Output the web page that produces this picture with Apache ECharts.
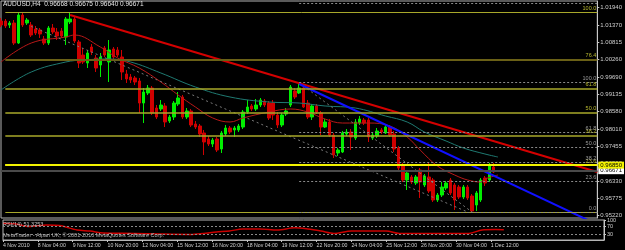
<!DOCTYPE html>
<html><head><meta charset="utf-8">
<script src="https://cdn.jsdelivr.net/npm/echarts@6/dist/echarts.min.js"></script>
<style>html,body{margin:0;padding:0;background:#000;}#c{width:625px;height:250px;}</style>
</head><body><div id="c"></div>
<script>
const tickLabels = ['4 Nov 2010','8 Nov 04:00','9 Nov 12:00','10 Nov 20:00','12 Nov 04:00','15 Nov 12:00','16 Nov 20:00','18 Nov 04:00','19 Nov 12:00','22 Nov 20:00','24 Nov 04:00','25 Nov 12:00','26 Nov 20:00','30 Nov 04:00','1 Dec 12:00'];
const open = [1.01498,1.01498,1.01369,1.01433,1.00788,1.01691,1.01433,1.01369,1.01240,1.01208,
1.00917,1.00788,1.01272,1.01143,1.01175,1.00982,1.01466,1.01562,1.00821,1.00401,
1.00143,1.00659,1.00305,1.00079,1.00627,1.00176,1.00595,1.00563,1.00337,0.99789,
0.99692,0.99660,0.99563,0.98853,0.99176,0.99337,0.98692,0.98660,0.98757,0.98273,
0.98402,0.98821,0.99047,0.98402,0.98595,0.98176,0.98112,0.97886,0.97692,0.97531,
0.97692,0.97370,0.97854,0.98047,0.97983,0.97983,0.98079,0.98563,0.98757,0.98660,
0.98789,0.98918,0.98853,0.98853,0.98466,0.98144,0.98499,0.98789,0.99240,0.99176,
0.99337,0.98853,0.98402,0.98757,0.98531,0.98079,0.98241,0.97821,0.97241,0.97273,
0.97854,0.97918,0.97725,0.98208,0.98305,0.98305,0.97725,0.97789,0.97983,0.97886,
0.98079,0.97854,0.97402,0.96822,0.96370,0.96467,0.96273,0.96693,0.96209,0.96467,
0.96370,0.95725,0.95886,0.96112,0.96370,0.96209,0.96144,0.95822,0.96144,0.95854,
0.95564,0.95725,0.96435,0.96370,0.96789,0.96668];
const close = [1.01369,1.01337,1.01433,1.00788,1.01691,1.01369,1.01530,1.01046,1.01111,1.01079,
1.00788,1.01272,1.01143,1.01014,1.01014,1.01562,1.01562,1.00853,1.00143,1.00176,
1.00466,1.00498,0.99982,1.00337,1.00401,1.00563,1.00337,1.00401,0.99853,0.99628,
0.99595,0.99531,0.98853,0.99208,0.99337,0.98531,0.98402,0.98789,0.98241,0.98402,
0.98853,0.99015,0.98402,0.98595,0.98144,0.98079,0.97854,0.97596,0.97531,0.97660,
0.97338,0.97886,0.98047,0.97918,0.98047,0.98112,0.98563,0.98724,0.98660,0.98789,
0.98950,0.98789,0.98370,0.98466,0.98144,0.98466,0.98595,0.99369,0.99047,0.99337,
0.98724,0.98402,0.98757,0.98563,0.98079,0.98241,0.97821,0.97176,0.97338,0.97886,
0.97918,0.97757,0.98241,0.98337,0.98208,0.97757,0.97821,0.97950,0.97918,0.98079,
0.97821,0.97370,0.96757,0.96370,0.96596,0.96306,0.96467,0.96306,0.96499,0.96015,
0.95725,0.95886,0.96144,0.96273,0.95951,0.95725,0.95822,0.96144,0.95790,0.95370,
0.95951,0.96370,0.96273,0.96854,0.96628,0.96671];
const low = [1.01304,1.01272,1.01272,1.00724,1.00756,1.01304,1.01369,1.00982,1.01046,1.00950,
1.00724,1.00724,1.01079,1.00885,1.00950,1.00724,1.01401,1.00788,0.99982,1.00111,
0.99982,1.00401,0.99853,0.99692,1.00337,0.99531,1.00240,1.00337,0.99595,0.99498,
0.99498,0.99434,0.98531,0.98208,0.99111,0.98466,0.98337,0.98595,0.98079,0.98208,
0.98305,0.98757,0.98337,0.98337,0.98079,0.98015,0.97757,0.97176,0.97467,0.97434,
0.97273,0.97241,0.97789,0.97854,0.97757,0.97918,0.98015,0.98499,0.98595,0.98595,
0.98724,0.98724,0.98305,0.98305,0.98047,0.98079,0.98434,0.98724,0.98982,0.99144,
0.98692,0.98337,0.98305,0.98499,0.97821,0.98047,0.97757,0.97080,0.97144,0.97241,
0.97789,0.97338,0.97660,0.98144,0.98144,0.97596,0.97660,0.97725,0.97854,0.97854,
0.97757,0.97273,0.96693,0.96306,0.96048,0.96241,0.96209,0.95790,0.96144,0.95951,
0.95661,0.95661,0.95822,0.96048,0.95886,0.95403,0.95757,0.95757,0.95725,0.95338,
0.95370,0.95661,0.96177,0.96306,0.96596,0.96640];
const high = [1.01595,1.01562,1.01498,1.01530,1.01756,1.01756,1.01595,1.01466,1.01337,1.01272,
1.01014,1.01337,1.01401,1.01272,1.01272,1.01627,1.01788,1.01659,1.00885,1.00627,
1.00563,1.00756,1.00401,1.00466,1.00692,1.00885,1.00659,1.00659,1.00563,0.99918,
0.99789,0.99724,0.99660,0.99337,0.99434,0.99402,0.98789,0.98950,0.98853,0.98466,
0.98918,0.99208,0.99111,0.98692,0.98660,0.98273,0.98176,0.97983,0.97789,0.97725,
0.97757,0.97950,0.98144,0.98112,0.98112,0.98176,0.98628,0.98950,0.98821,0.98982,
0.99015,0.98982,0.98918,0.98950,0.98563,0.98531,0.98692,0.99434,0.99337,0.99508,
0.99402,0.98950,0.98821,0.98821,0.98595,0.98337,0.98337,0.97886,0.97402,0.97950,
0.98015,0.98015,0.98337,0.98434,0.98370,0.98370,0.97886,0.98047,0.98047,0.98144,
0.98144,0.97950,0.97467,0.96918,0.96693,0.96531,0.96531,0.96757,0.96563,0.96918,
0.96435,0.95951,0.96306,0.96338,0.96435,0.96273,0.96209,0.96209,0.96209,0.95918,
0.96015,0.96435,0.96499,0.96918,0.96918,0.96675];
const redMA = [[0,1.00175],[7,1.00788],[15,1.00982],[17,1.01046],[23,1.00659],[27,1.00305],[32,0.99982],[37,0.99531],[41,0.99111],[45,0.98724],[49,0.98370],[53,0.98241],[56,0.98370],[62,0.98563],[67,0.98660],[71,0.98563],[75,0.98337],[79,0.98208],[85,0.98208],[90,0.98112],[94,0.97757],[97,0.97338],[101,0.96822],[105,0.96531],[108,0.96370],[111,0.96306],[112,0.96402],[115,0.96531]];
const tealMA = [[0,0.99273],[7,0.99853],[15,1.00176],[19,1.00240],[25,1.00272],[30,1.00176],[37,0.99821],[45,0.99369],[53,0.99047],[62,0.98886],[69,0.98853],[75,0.98757],[82,0.98692],[89,0.98434],[94,0.98241],[98,0.97918],[103,0.97628],[107,0.97402],[112,0.97209],[115,0.97112]];
const rsi = [[0,84],[3,80],[6,67],[10,75],[13,72],[17,50],[20,45],[23,35],[30,33],[36,30],[43,28],[46,33],[49,40],[52,45],[55,55],[59,55],[63,50],[67,61],[70,55],[73,45],[76,33],[80,45],[84,45],[88,45],[91,33],[96,32],[100,32],[107,33],[110,50],[113,52],[115,51.3253]];
const priceTicks = [1.01940,1.01370,1.00815,1.00260,0.99690,0.99135,0.98580,0.98010,0.97455,0.96900,0.96330,0.95775,0.95220];
const rsiTicks = [100,70,30];
const fib1Names = ['100.0','76.4','61.8','50.0','38.2','23.6','0.0'];
const fib1Prices = [1.01778,1.00256,0.99314,0.98553,0.97792,0.96850,0.95328];
const fib2Names = ['161.8','100.0','61.8','50.0','38.2','23.6','0.0'];
const fib2Prices = [1.02085,0.99508,0.97915,0.97423,0.96931,0.96322,0.95338];
const redTrend = [[16,1.01691],[138,0.96628]];
const blueTrend = [[69,0.99466],[138,0.94935]];
const channelLine = [[7,1.01324],[108,0.95338]];
const fib2Trend = [[69,0.99508],[109,0.95338]];
const hLinePrice = 0.96850;
const NCAT = 139;

const FONT = 'Liberation Sans';
const categories = Array.from({length: NCAT}, (_, i) => String(i));
const candles = open.map((o, i) => [o, close[i], low[i], high[i]]);
const last = open.length - 1;
const bidPrice = close[last];
const showTick = (i) => i % 8 === 0 && (i / 8) < tickLabels.length;

const fib1Style = ['#a8a82a','#6a6016','#a8a82a','#a8a82a','#a8a82a','#f2f200','#a8a82a'];
const fib1Width = [1,2,1.5,1.5,1.5,2,1];
const fib1Lines = fib1Prices.map((p, k) => [
  {coord: [1, p], lineStyle: {color: fib1Style[k], width: fib1Width[k], type: 'solid'},
   label: {show: k !== 6, formatter: fib1Names[k], position: 'insideEndTop', color: '#b8b830', fontSize: 5.5, fontFamily: FONT, distance: 1}},
  {coord: [NCAT - 1, p]}
]);
const fib2Lines = fib2Prices.map((p, k) => [
  {coord: [69, p], lineStyle: {color: '#8a8a8a', width: 1, type: [2, 2]},
   label: {show: k !== 0, formatter: fib2Names[k], position: 'insideEndTop', color: '#9a9a9a', fontSize: 5.5, fontFamily: FONT, distance: 1}},
  {coord: [NCAT - 1, p]}
]);

const chart = echarts.init(document.getElementById('c'), null, {renderer: 'canvas'});
chart.setOption({
  backgroundColor: '#000000',
  animation: false,
  title: [
    {text: `AUDUSD,H4  ${open[last].toFixed(5)} ${high[last].toFixed(5)} ${low[last].toFixed(5)} ${close[last].toFixed(5)}`,
     left: 3, top: 1, padding: 0, textStyle: {color: '#e6e6e6', fontSize: 6.5, fontWeight: 'normal', fontFamily: FONT}},
    {text: `RSI(14) ${rsi[rsi.length - 1][1].toFixed(4)}`, left: 3, top: 221, padding: 0,
     textStyle: {color: '#c8c8c8', fontSize: 5.5, fontWeight: 'normal', fontFamily: FONT}},
    {text: 'MetaTrader - Alpari UK, © 2001-2010 MetaQuotes Software Corp.', left: 3, top: 232, padding: 0,
     textStyle: {color: '#b4b4b4', fontSize: 5.5, fontWeight: 'normal', fontFamily: FONT}}
  ],
  grid: [
    {left: 1, right: 21, top: 1, height: 217, show: true, borderColor: '#b4b4b4', borderWidth: 1, backgroundColor: 'transparent'},
    {left: 1, right: 21, top: 220, height: 20, show: true, borderColor: '#b4b4b4', borderWidth: 1, backgroundColor: 'transparent'}
  ],
  xAxis: [
    {type: 'category', gridIndex: 0, data: categories, boundaryGap: false, show: false},
    {type: 'category', gridIndex: 1, data: categories, boundaryGap: false,
     axisLine: {show: true, lineStyle: {color: '#b4b4b4'}},
     axisTick: {show: true, interval: showTick, length: 2, lineStyle: {color: '#c8c8c8'}},
     axisLabel: {interval: showTick, hideOverlap: false, align: 'left', margin: 3, color: '#d0d0d0', fontSize: 5.2, fontFamily: FONT,
       formatter: (v, i) => tickLabels[i / 8] || ''},
     splitLine: {show: false}}
  ],
  yAxis: [
    {type: 'value', gridIndex: 0, position: 'right', min: 0.95145, max: 1.02143, scale: true,
     axisLine: {show: true, lineStyle: {color: '#c8c8c8'}},
     axisTick: {show: true, length: 2, customValues: priceTicks, lineStyle: {color: '#c8c8c8'}},
     axisLabel: {customValues: priceTicks, formatter: v => v.toFixed(5), margin: 3, color: '#d0d0d0', fontSize: 6, fontFamily: FONT},
     splitLine: {show: false}},
    {type: 'value', gridIndex: 1, position: 'right', min: 0, max: 100,
     axisLine: {show: true, lineStyle: {color: '#c8c8c8'}},
     axisTick: {show: true, length: 2, customValues: rsiTicks, lineStyle: {color: '#c8c8c8'}},
     axisLabel: {customValues: rsiTicks, formatter: v => String(v), margin: 3, color: '#d0d0d0', fontSize: 5.5, fontFamily: FONT},
     splitLine: {show: false}}
  ],
  series: [
    {type: 'candlestick', xAxisIndex: 0, yAxisIndex: 0, data: candles, barWidth: 3,
     itemStyle: {color: '#00ee00', color0: '#d00000', borderColor: '#00ee00', borderColor0: '#d00000', borderWidth: 1},
     markLine: {symbol: ['none', 'none'], silent: true, animation: false,
       data: [
         [{coord: [0, bidPrice], lineStyle: {color: '#4a4a4a', width: 2, type: 'solid'},
           label: {show: true, position: 'end', formatter: bidPrice.toFixed(5), backgroundColor: '#ffffff', color: '#000', fontSize: 6, fontFamily: FONT, padding: [1, 2, 0, 2], distance: 1}},
          {coord: [NCAT - 1, bidPrice]}],
         [{coord: [1, hLinePrice], lineStyle: {color: '#f2f200', width: 2, type: 'solid'},
           label: {show: true, position: 'end', formatter: hLinePrice.toFixed(5), backgroundColor: '#f2f200', color: '#000', fontSize: 6, fontFamily: FONT, padding: [1, 2, 0, 2], distance: 1}},
          {coord: [NCAT - 1, hLinePrice]}]
       ]}},
    {type: 'line', xAxisIndex: 0, yAxisIndex: 0, data: tealMA, smooth: 0.4, symbol: 'none', lineStyle: {color: '#1f7a72', width: 1}},
    {type: 'line', xAxisIndex: 0, yAxisIndex: 0, data: redMA, smooth: 0.4, symbol: 'none', lineStyle: {color: '#b81818', width: 1}},
    {type: 'line', xAxisIndex: 0, yAxisIndex: 0, data: channelLine, symbol: 'none', lineStyle: {color: '#7a7a7a', width: 1, type: [2, 3]},
     markLine: {symbol: ['none', 'none'], silent: true, animation: false, data: fib1Lines}},
    {type: 'line', xAxisIndex: 0, yAxisIndex: 0, data: fib2Trend, symbol: 'none', lineStyle: {color: '#7a7a7a', width: 1, type: [2, 3]},
     markLine: {symbol: ['none', 'none'], silent: true, animation: false, data: fib2Lines}},
    {type: 'line', xAxisIndex: 0, yAxisIndex: 0, data: redTrend, symbol: 'none', lineStyle: {color: '#d40000', width: 2}},
    {type: 'line', xAxisIndex: 0, yAxisIndex: 0, data: blueTrend, symbol: 'none', lineStyle: {color: '#1010ff', width: 2}},
    {type: 'line', xAxisIndex: 1, yAxisIndex: 1, data: rsi, smooth: 0.3, symbol: 'none', lineStyle: {color: '#cc0000', width: 1.5},
     markLine: {symbol: ['none', 'none'], silent: true, animation: false, label: {show: false},
       lineStyle: {color: '#8a8a8a', width: 1, type: [2, 2]},
       data: [[{coord: [0, 70]}, {coord: [NCAT - 1, 70]}], [{coord: [0, 30]}, {coord: [NCAT - 1, 30]}]]}}
  ]
});
</script></body></html>
